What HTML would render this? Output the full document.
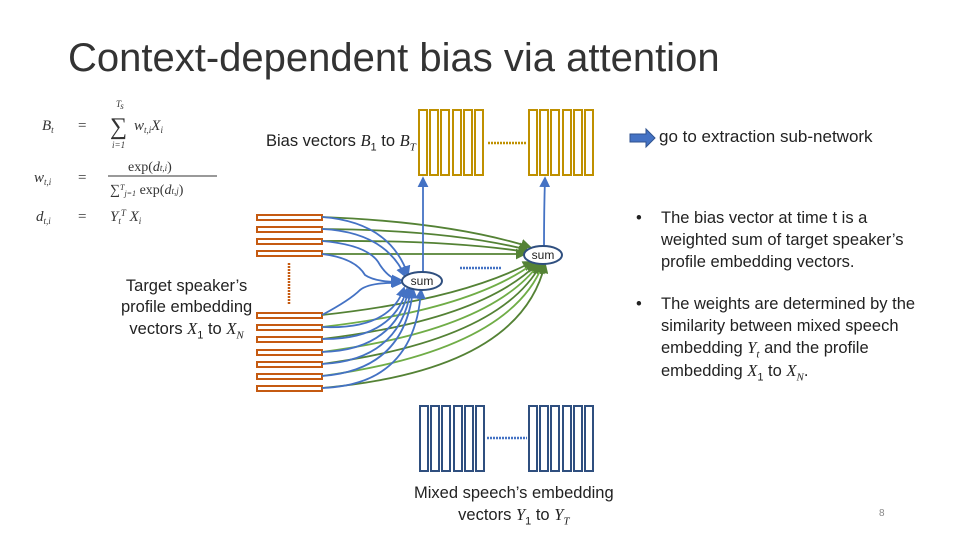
<!DOCTYPE html>
<html><head><meta charset="utf-8"><style>
body{margin:0;background:#fff;width:960px;height:540px;overflow:hidden;position:relative;font-family:"Liberation Sans",sans-serif}
.t{position:absolute;white-space:nowrap}
</style></head><body>
<div class="t" style="left:68px;top:36px;font-size:40px;color:#333">Context-dependent bias via attention</div>
<svg width="960" height="540" style="position:absolute;left:0;top:0">
<defs>
<marker id="ab" markerWidth="6" markerHeight="6" refX="5" refY="3" orient="auto"><path d="M0,0L6,3L0,6z" fill="#4472c4"/></marker>
<marker id="ag" markerWidth="6" markerHeight="6" refX="5" refY="3" orient="auto"><path d="M0,0L6,3L0,6z" fill="#548235"/></marker>
</defs>
<g font-family="Liberation Serif,serif" font-style="italic" fill="#333" font-size="15">
<text x="42" y="130">B<tspan font-size="9" dy="3">t</tspan></text>
<text x="78" y="130" font-style="normal">=</text>
<text x="110" y="134" font-size="24" font-style="normal">∑</text>
<text x="116" y="107" font-size="9">T<tspan dy="2">s</tspan></text>
<text x="112" y="148" font-size="9">i=1</text>
<text x="134" y="130">w<tspan font-size="9" dy="3">t,i</tspan><tspan dy="-3">X</tspan><tspan font-size="9" dy="3">i</tspan></text>
<text x="34" y="182">w<tspan font-size="9" dy="3">t,i</tspan></text>
<text x="78" y="182" font-style="normal">=</text>
<text x="128" y="171" font-style="normal" font-size="14">exp(<tspan font-style="italic">d<tspan font-size="9">t,i</tspan></tspan>)</text>
<line x1="108" y1="176" x2="217" y2="176" stroke="#333"/>
<text x="110" y="194" font-size="14">∑<tspan font-size="8" dy="-4">T</tspan><tspan font-size="8" dy="6">j=1</tspan><tspan font-style="normal" dy="-2"> exp(</tspan>d<tspan font-size="9">t,j</tspan><tspan font-style="normal">)</tspan></text>
<text x="36" y="221">d<tspan font-size="9" dy="3">t,i</tspan></text>
<text x="78" y="221" font-style="normal">=</text>
<text x="110" y="221">Y<tspan font-size="9" dy="3">t</tspan><tspan font-size="9" dy="-8">T</tspan><tspan dy="5"> X</tspan><tspan font-size="9" dy="3">i</tspan></text>
</g>
<g fill="#fff" stroke="#bf9000" stroke-width="2">
<rect x="419" y="110" width="8" height="65"/><rect x="430" y="110" width="8" height="65"/><rect x="441" y="110" width="8" height="65"/><rect x="453" y="110" width="8" height="65"/><rect x="464" y="110" width="8" height="65"/><rect x="475" y="110" width="8" height="65"/>
<rect x="529" y="110" width="8" height="65"/><rect x="540" y="110" width="8" height="65"/><rect x="551" y="110" width="8" height="65"/><rect x="563" y="110" width="8" height="65"/><rect x="574" y="110" width="8" height="65"/><rect x="585" y="110" width="8" height="65"/>
</g>
<line x1="488" y1="143" x2="527" y2="143" stroke="#bf9000" stroke-width="2.5" stroke-dasharray="2,1"/>
<g fill="#fff" stroke="#2f4f7f" stroke-width="2">
<rect x="420" y="406" width="8" height="65"/><rect x="431" y="406" width="8" height="65"/><rect x="442" y="406" width="8" height="65"/><rect x="454" y="406" width="8" height="65"/><rect x="465" y="406" width="8" height="65"/><rect x="476" y="406" width="8" height="65"/>
<rect x="529" y="406" width="8" height="65"/><rect x="540" y="406" width="8" height="65"/><rect x="551" y="406" width="8" height="65"/><rect x="563" y="406" width="8" height="65"/><rect x="574" y="406" width="8" height="65"/><rect x="585" y="406" width="8" height="65"/>
</g>
<line x1="487" y1="438" x2="527" y2="438" stroke="#4472c4" stroke-width="2.5" stroke-dasharray="2,1"/>
<line x1="460" y1="268" x2="502" y2="268" stroke="#4472c4" stroke-width="2.5" stroke-dasharray="2,1"/>
<g fill="#fff" stroke="#c55a11" stroke-width="2">
<rect x="257" y="215" width="65" height="5"/><rect x="257" y="227" width="65" height="5"/><rect x="257" y="239" width="65" height="5"/><rect x="257" y="251" width="65" height="5"/>
<rect x="257" y="313" width="65" height="5"/><rect x="257" y="325" width="65" height="5"/><rect x="257" y="337" width="65" height="5"/><rect x="257" y="350" width="65" height="5"/><rect x="257" y="362" width="65" height="5"/><rect x="257" y="374" width="65" height="5"/><rect x="257" y="386" width="65" height="5"/>
</g>
<line x1="289" y1="263" x2="289" y2="305" stroke="#c55a11" stroke-width="2.5" stroke-dasharray="2,1"/>
<g fill="none" stroke="#548235" stroke-width="1.8" marker-end="url(#ag)">
<path d="M322,217 Q450,222 530,247"/><path d="M322,229 Q450,230 528,250"/><path d="M322,241 Q450,240 527,252"/><path d="M322,254 L525,254"/>
<path d="M322,315 Q460,300 532,262"/><path d="M322,327 Q470,310 534,263" stroke="#70ad47"/><path d="M322,339 Q480,320 537,264"/><path d="M322,352 Q490,330 539,264" stroke="#70ad47"/><path d="M322,364 Q500,340 541,264"/><path d="M322,376 Q510,350 543,264" stroke="#70ad47"/><path d="M322,388 Q520,370 545,264"/>
</g>
<g fill="none" stroke="#4472c4" stroke-width="1.8" marker-end="url(#ab)">
<path d="M322,217 Q390,222 408,275"/><path d="M322,229 Q385,232 405,276"/><path d="M322,241 Q370,245 380,265 Q390,280 401,280"/><path d="M322,254 Q355,258 365,275 Q375,282 400,282"/>
<path d="M322,315 Q350,300 360,290 Q370,282 401,283"/><path d="M322,327 Q390,330 404,288"/><path d="M322,339 Q392,340 407,289"/><path d="M322,352 Q395,350 409,289"/><path d="M322,364 Q400,360 411,289"/><path d="M322,376 Q405,370 413,289"/><path d="M322,388 Q415,385 421,290"/>
<path d="M423,272 L423,178"/><path d="M544,247 Q544,210 545,178"/>
</g>
<ellipse cx="422" cy="281" rx="20" ry="9" fill="#fff" stroke="#2f4f7f" stroke-width="2"/>
<ellipse cx="543" cy="255" rx="19" ry="9" fill="#fff" stroke="#2f4f7f" stroke-width="2"/>
<text x="422" y="285" font-size="12" text-anchor="middle" fill="#222" font-family="Liberation Sans,sans-serif">sum</text>
<text x="543" y="259" font-size="12" text-anchor="middle" fill="#222" font-family="Liberation Sans,sans-serif">sum</text>
<path d="M630,134 L646,134 L646,129 L655,138 L646,147 L646,142 L630,142z" fill="#4472c4" stroke="#2f528f"/>
</svg>
<div class="t" style="left:266px;top:131px;font-size:16.5px;color:#222">Bias vectors <i style="font-family:'Liberation Serif',serif">B</i><sub style="font-size:11px">1</sub> to <i style="font-family:'Liberation Serif',serif">B<sub style="font-size:11px">T</sub></i></div>
<div class="t" style="left:659px;top:127px;font-size:17px;color:#222">go to extraction sub-network</div>
<div class="t" style="left:121px;top:276px;font-size:16.5px;color:#222;line-height:21px;text-align:center">Target speaker’s<br>profile embedding<br>vectors <i style="font-family:'Liberation Serif',serif">X</i><sub style="font-size:11px">1</sub> to <i style="font-family:'Liberation Serif',serif">X<sub style="font-size:11px">N</sub></i></div>
<div class="t" style="left:414px;top:482px;font-size:16.5px;color:#222;line-height:22px;text-align:center">Mixed speech’s embedding<br>vectors <i style="font-family:'Liberation Serif',serif">Y</i><sub style="font-size:11px">1</sub> to <i style="font-family:'Liberation Serif',serif">Y<sub style="font-size:11px">T</sub></i></div>
<div class="t" style="left:636px;top:207px;font-size:16.5px;color:#222;line-height:22px">•<span style="position:absolute;left:25px">The bias vector at time t is a<br>weighted sum of target speaker’s<br>profile embedding vectors.</span></div>
<div class="t" style="left:636px;top:294px;font-size:16.5px;color:#222;line-height:21.5px">•<span style="position:absolute;left:25px">The weights are determined by the<br>similarity between mixed speech<br>embedding <i style="font-family:'Liberation Serif',serif">Y<sub style="font-size:11px;line-height:0">t</sub></i> and the profile<br>embedding <i style="font-family:'Liberation Serif',serif">X</i><sub style="font-size:11px;line-height:0">1</sub> to <i style="font-family:'Liberation Serif',serif">X<sub style="font-size:11px;line-height:0">N</sub></i>.</span></div>
<div class="t" style="left:879px;top:508px;font-size:10px;color:#888">8</div>
</body></html>
